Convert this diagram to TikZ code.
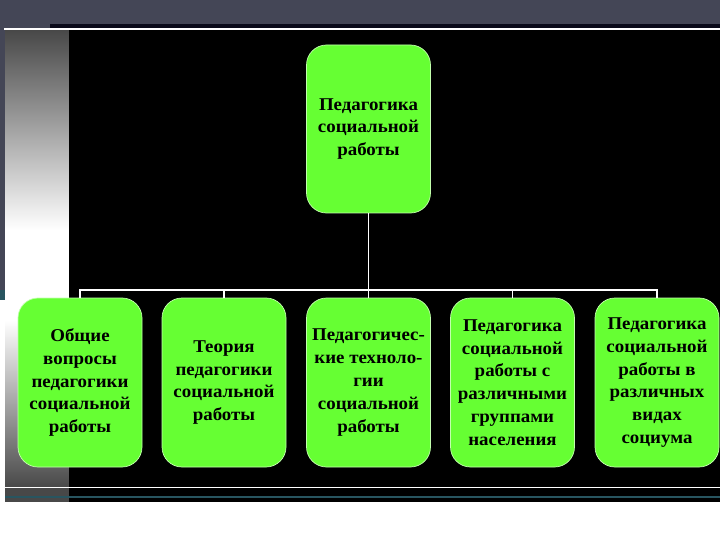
\documentclass[tikz,border=0pt]{standalone}
\usepackage{fontspec}
\setmainfont{Liberation Serif}[FakeStretch=1.05]
\definecolor{boxgreen}{RGB}{102,255,51}
\definecolor{topband}{RGB}{68,70,86}
\definecolor{navydark}{RGB}{10,10,26}
\definecolor{tealline}{RGB}{40,85,96}
\definecolor{stripgray}{RGB}{72,72,72}
\begin{document}
\begin{tikzpicture}[x=1pt,y=-1pt,
  box/.style={rounded corners=20pt, fill=boxgreen, draw=white!60!boxgreen, line width=0.7pt,
    minimum width=124pt, minimum height=169pt, align=center, inner sep=2pt,
    font=\bfseries\fontsize{18}{22.8}\selectfont, text=black},
  link/.style={draw=white, line width=1.3pt}]
\useasboundingbox (0,0) rectangle (720,540);
% page background
\fill[white] (0,0) rectangle (720,540);
% top band
\fill[topband] (0,0) rectangle (720,24);
\fill[navydark] (50,24) rectangle (720,30);
\fill[topband] (0,24) rectangle (50,30);
% left edge
\fill[topband] (0,30) rectangle (5,290);
\fill[tealline] (0,290) rectangle (6,300);
% left gradient strip
\shade[top color=stripgray, bottom color=white] (5,30) rectangle (69,230);
\fill[white] (5,230) rectangle (69,320);
\shade[top color=white, bottom color=stripgray] (5,320) rectangle (69,488);
% black area
\fill[black] (69,30) rectangle (720,488);
% bottom band
\fill[stripgray] (5,488) rectangle (69,502);
\fill[black] (69,488) rectangle (720,502);
\draw[tealline, line width=1.2pt] (5,497) -- (720,497);
% white rules
\draw[white, line width=1.2pt] (4,29) -- (720,29);
\draw[white, line width=1.2pt] (4,487.5) -- (720,487.5);
% nodes
\node[box, minimum height=168pt] (top) at (368.5,129) {Педагогика\\социальной\\работы};
\node[box] (b1) at (80,382.5) {Общие\\вопросы\\педагогики\\социальной\\работы};
\node[box] (b2) at (224,382.5) {Теория\\педагогики\\социальной\\работы};
\node[box] (b3) at (368.5,382.5) {Педагогичес-\\кие техноло-\\гии\\социальной\\работы};
\node[box] (b4) at (512.5,382.5) {Педагогика\\социальной\\работы с\\различными\\группами\\населения};
\node[box] (b5) at (657,382.5) {Педагогика\\социальной\\работы в\\различных\\видах\\социума};
% connectors
\coordinate (bar) at (368.5,290);
\draw[link] (top.south) -- (bar);
\draw[link] (b1.north) -- (b1.north |- bar) -- (b5.north |- bar) -- (b5.north);
\draw[link] (b2.north) -- (b2.north |- bar);
\draw[link] (b3.north) -- (b3.north |- bar);
\draw[link] (b4.north) -- (b4.north |- bar);
\end{tikzpicture}
\end{document}
